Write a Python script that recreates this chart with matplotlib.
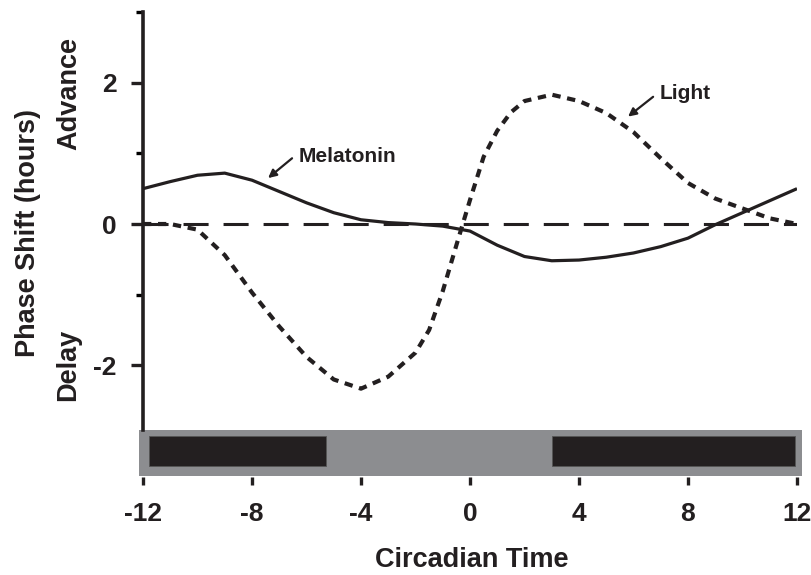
import matplotlib.pyplot as plt
from matplotlib.patches import Rectangle

plt.rcParams['font.family'] = ['Liberation Sans', 'DejaVu Sans']
plt.rcParams['font.weight'] = 'bold'
plt.rcParams['axes.unicode_minus'] = False

# Phase response curves (circadian time in hours, phase shift in hours)
melatonin_t = [-12, -11, -10, -9, -8, -7, -6, -5, -4, -3, -2, -1, 0,
               1, 2, 3, 4, 5, 6, 7, 8, 9, 10, 11, 12]
melatonin_shift = [0.5, 0.6, 0.69, 0.72, 0.62, 0.46, 0.3, 0.16, 0.06, 0.02, 0.0, -0.03, -0.1,
                   -0.3, -0.46, -0.52, -0.51, -0.47, -0.41, -0.32, -0.2, -0.01, 0.16, 0.33, 0.5]

light_t = [-12, -11, -10, -9, -8, -7, -6, -5, -4, -3, -2, -1.5, -1, -0.5, 0,
           0.5, 1, 1.5, 2, 3, 4, 5, 6, 7, 8, 9, 10, 11, 12]
light_shift = [0.0, 0.0, -0.08, -0.44, -0.97, -1.45, -1.88, -2.2, -2.33, -2.16, -1.82, -1.5, -0.95, -0.3, 0.34,
               0.95, 1.32, 1.58, 1.74, 1.83, 1.74, 1.57, 1.3, 0.93, 0.58, 0.36, 0.22, 0.08, 0.0]

# dark periods shown on the light/dark bar
dark_periods = [(-11.78, -5.28), (3.0, 11.93)]

x_ticks = [-12, -8, -4, 0, 4, 8, 12]
y_ticks = [-2, 0, 2]

fig = plt.figure(figsize=(8.12, 5.75), dpi=100)
ax = fig.add_axes([143 / 812, 1 - 477 / 575, 654 / 812, 465 / 575])

ax.axhline(0, color='#231f20', lw=2.2, dashes=(8.2, 4.9))
ax.plot(melatonin_t, melatonin_shift, color='#231f20', lw=2.3, solid_capstyle='butt')
ax.plot(light_t, light_shift, color='#231f20', lw=3.0, dashes=(2.0, 1.6))

ax.set_xlim(-12, 12)
ax.set_ylim(-3.58, 3.0)

# light/dark bar under the plot
ax.add_patch(Rectangle((-12.15, -3.56), 24.35, 0.64, facecolor='#8c8d90',
                       edgecolor='none', clip_on=False))
for start, end in dark_periods:
    ax.add_patch(Rectangle((start, -3.43), end - start, 0.43, facecolor='#231f20',
                           edgecolor='#555555', lw=0.6, clip_on=False))

for side in ['top', 'right', 'bottom']:
    ax.spines[side].set_visible(False)
ax.spines['left'].set_bounds(-2.92, 3.0)
ax.spines['left'].set_linewidth(2.6)
ax.spines['left'].set_color('#231f20')

ax.set_xticks(x_ticks)
ax.set_yticks(y_ticks)
ax.set_yticks([-1, 1, 3], minor=True)
ax.tick_params(axis='x', direction='out', length=6, width=2.4, pad=12,
               labelsize=19, colors='#231f20')
ax.tick_params(axis='y', which='major', direction='out', length=9, width=2.4, pad=10,
               labelsize=19, colors='#231f20')
ax.tick_params(axis='y', which='minor', direction='out', length=5, width=2.4)

fig.text(472 / 812, 1 - 560 / 575, 'Circadian Time', ha='center', va='center',
         fontsize=19.5, color='#231f20')
fig.text(28 / 812, 1 - 233 / 575, 'Phase Shift (hours)', rotation=90, ha='center',
         va='center', fontsize=19.5, color='#231f20')
fig.text(69 / 812, 1 - 93 / 575, 'Advance', rotation=90, ha='center', va='center',
         fontsize=19.5, color='#231f20')
fig.text(68 / 812, 1 - 365 / 575, 'Delay', rotation=90, ha='center', va='center',
         fontsize=19.5, color='#231f20')

arrow = dict(arrowstyle='-|>', color='#231f20', lw=1.6, mutation_scale=12,
             shrinkA=0, shrinkB=0)
ax.annotate('', xy=(-7.41, 0.65), xytext=(-6.53, 0.93), arrowprops=arrow)
ax.text(-6.3, 0.96, 'Melatonin', fontsize=15, va='center', ha='left', color='#231f20')
ax.annotate('', xy=(5.8, 1.52), xytext=(6.72, 1.8), arrowprops=arrow)
ax.text(6.97, 1.85, 'Light', fontsize=15, va='center', ha='left', color='#231f20')

fig.savefig('out.png', dpi=100)
